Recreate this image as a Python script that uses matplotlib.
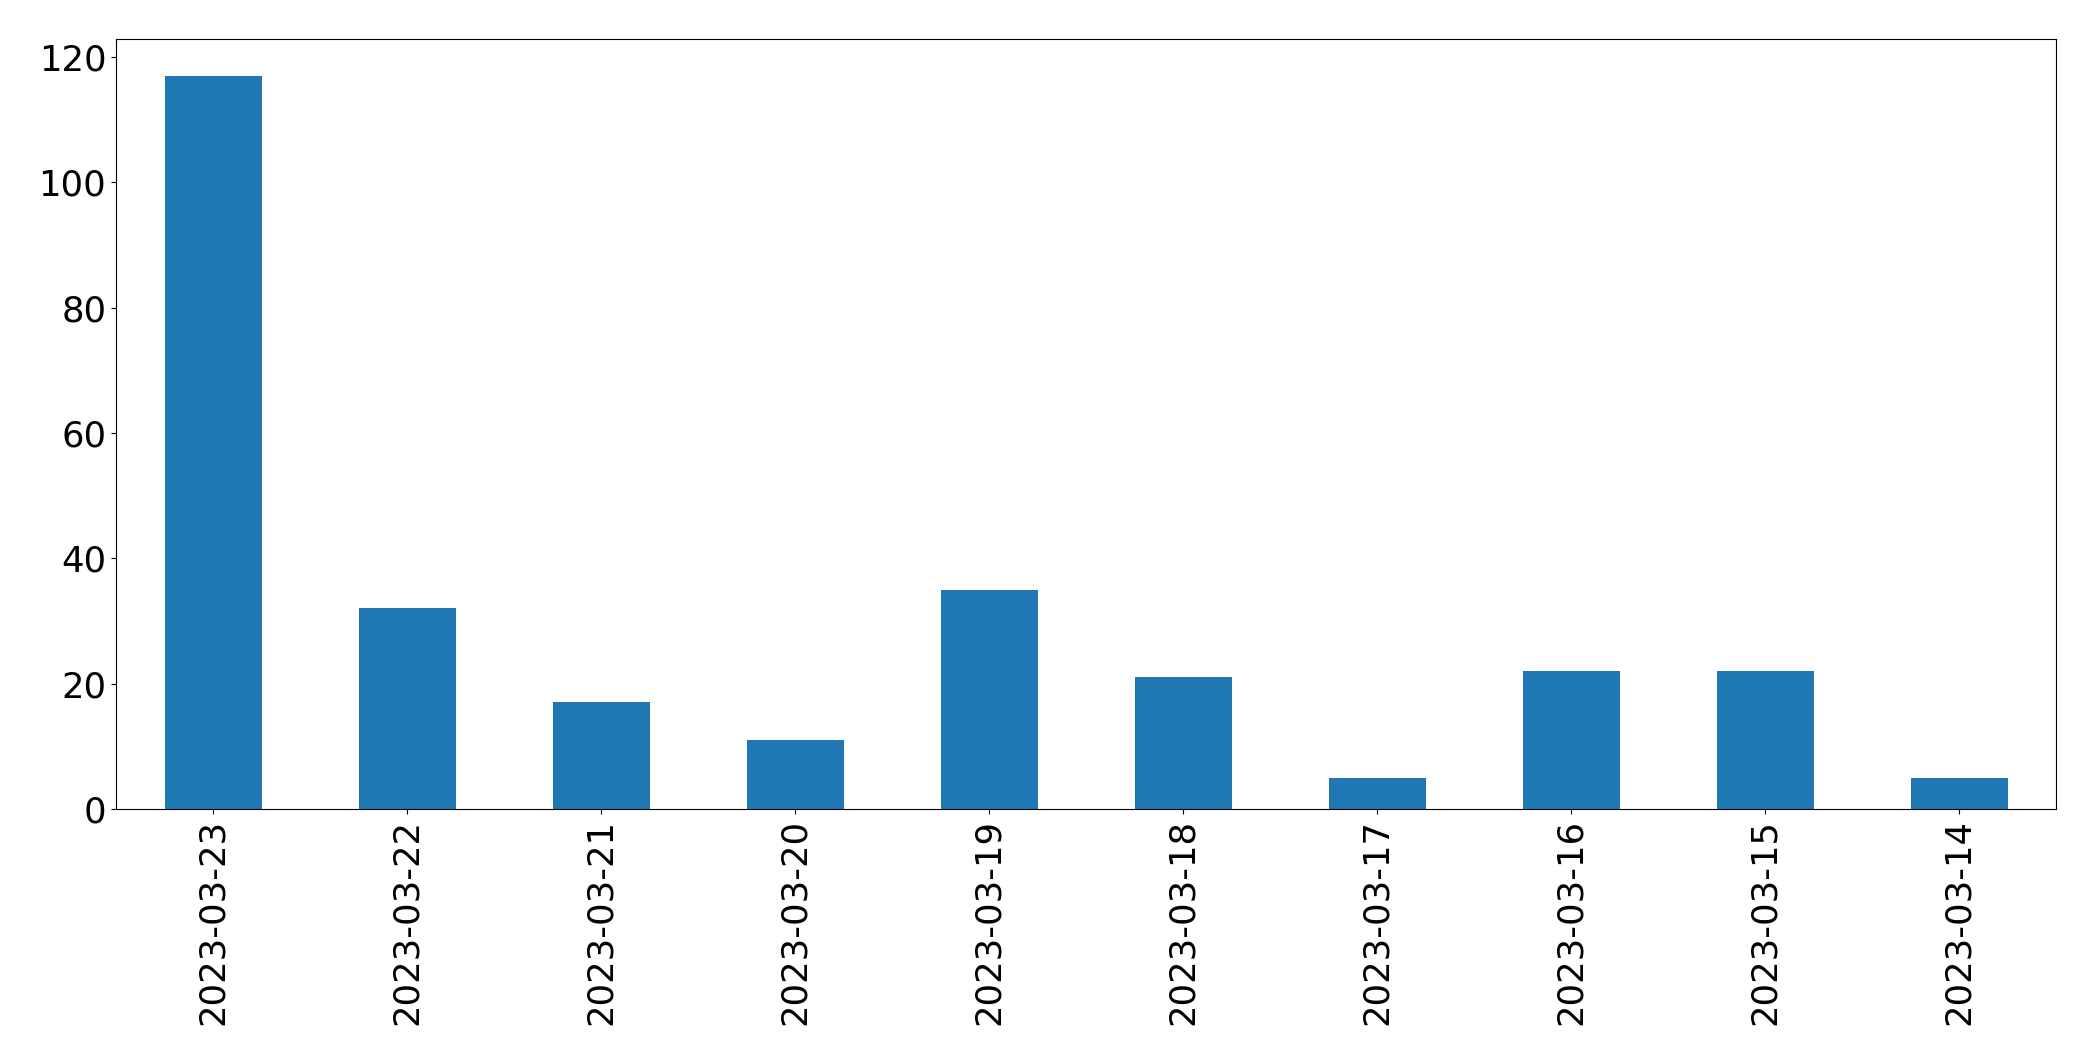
import numpy as np
import pandas as pd
import matplotlib
matplotlib.use('Agg')
import matplotlib.pyplot as plt

fechas = ["2023-03-23", "2023-03-22", "2023-03-21", "2023-03-20", "2023-03-19",
          "2023-03-18", "2023-03-17", "2023-03-16", "2023-03-15", "2023-03-14"]
conteos = [117, 32, 17, 11, 35, 21, 5, 22, 22, 5]

serie = pd.Series(conteos, index=fechas)

fig = plt.figure(figsize=(20.93, 10.61), dpi=100)
ax = fig.add_axes([116/2093, (1061-809)/1061, (2056-116)/2093, (809-39)/1061])
serie.plot(kind="bar", ax=ax, color="#1f77b4")

ax.tick_params(axis="both", labelsize=25.5)

plt.savefig("out.png", dpi=100)
plt.close()
